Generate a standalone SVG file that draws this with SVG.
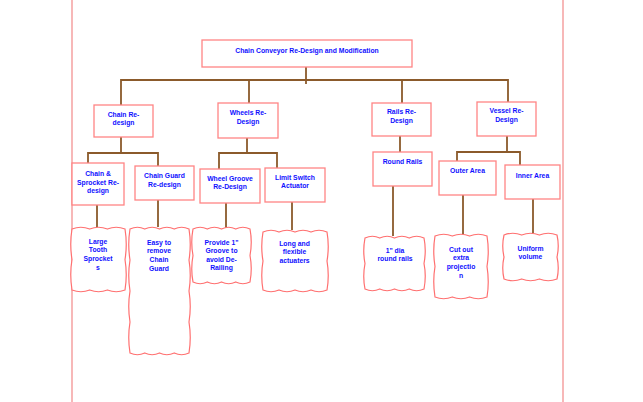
<svg xmlns="http://www.w3.org/2000/svg" width="643" height="402" viewBox="0 0 643 402">
<style>
.bg{fill:#ffffff}
.page{stroke:#f4a0a0;stroke-width:1.5;fill:none}
.box{fill:#ffffff;stroke:#ff8585;stroke-width:1.3}
.cloud{fill:#ffffff;stroke:#ff7070;stroke-width:1.2}
.c{fill:none;stroke:#8b5a2b;stroke-width:1.8}
text{font-family:"Liberation Sans",Arial,sans-serif;font-size:6.8px;font-weight:bold;fill:#1010ff;text-anchor:middle}
</style>
<rect class="bg" x="0" y="0" width="643" height="402"/>
<g id="page">
<line class="page" x1="72" y1="0" x2="72" y2="402"/>
<line class="page" x1="563" y1="0" x2="563" y2="402"/>
</g>
<g id="connectors">
<path class="c" d="M306,67 V84"/>
<path class="c" d="M121,105 V80 H508 V102"/>
<path class="c" d="M249,80 V103"/>
<path class="c" d="M402,80 V103"/>
<path class="c" d="M121,137 V153"/>
<path class="c" d="M88,163 V153 H158 V166"/>
<path class="c" d="M247,138 V153"/>
<path class="c" d="M219,169 V153 H277 V168"/>
<path class="c" d="M400,136 V152"/>
<path class="c" d="M507,136 V152"/>
<path class="c" d="M457,161 V152 H520 V165"/>
<path class="c" d="M97,205 V227"/>
<path class="c" d="M158,200 V227"/>
<path class="c" d="M226,203 V228"/>
<path class="c" d="M292,202 V230"/>
<path class="c" d="M393,186 V236"/>
<path class="c" d="M463,195 V234"/>
<path class="c" d="M533,199 V233"/>
</g>
<g id="root">
<rect class="box" x="202" y="40" width="210" height="27"/>
<text x="307" y="52.5">Chain Conveyor Re-Design and Modification</text>
</g>
<g id="chain">
<rect class="box" x="94" y="105" width="59" height="32"/>
<text x="123.5" y="116.5">Chain Re-</text>
<text x="123.5" y="125.2">design</text>
</g>
<g id="wheels">
<rect class="box" x="218" y="103" width="60" height="35"/>
<text x="248" y="115.2">Wheels Re-</text>
<text x="248" y="123.8">Design</text>
</g>
<g id="rails">
<rect class="box" x="372" y="103" width="59" height="33"/>
<text x="401.5" y="114.2">Rails Re-</text>
<text x="401.5" y="122.8">Design</text>
</g>
<g id="vessel">
<rect class="box" x="477" y="102" width="59" height="34"/>
<text x="506.5" y="113.2">Vessel Re-</text>
<text x="506.5" y="121.8">Design</text>
</g>
<g id="sprocket">
<rect class="box" x="72" y="163" width="52" height="42"/>
<text x="98" y="175.8">Chain &amp;</text>
<text x="98" y="184.5">Sprocket Re-</text>
<text x="98" y="193.2">design</text>
</g>
<g id="guard">
<rect class="box" x="135" y="166" width="59" height="34"/>
<text x="164.5" y="177.8">Chain Guard</text>
<text x="164.5" y="186.5">Re-design</text>
</g>
<g id="groove">
<rect class="box" x="200" y="169" width="60" height="34"/>
<text x="230" y="180.5">Wheel Groove</text>
<text x="230" y="188.8">Re-Design</text>
</g>
<g id="limit">
<rect class="box" x="265" y="168" width="60" height="34"/>
<text x="295" y="179.5">Limit Switch</text>
<text x="295" y="187.8">Actuator</text>
</g>
<g id="roundrails">
<rect class="box" x="373" y="152" width="59" height="34"/>
<text x="402.5" y="163.5">Round Rails</text>
</g>
<g id="outer">
<rect class="box" x="439" y="161" width="57" height="34"/>
<text x="467.5" y="172.5">Outer Area</text>
</g>
<g id="inner">
<rect class="box" x="505" y="165" width="55" height="34"/>
<text x="532.5" y="177.5">Inner Area</text>
</g>
<g id="largetooth">
<path class="cloud" d="M72,229 q8.8,-3.5 17.7,0 q8.8,-3.5 17.7,0 q8.8,-3.5 17.6,0 q2.5,15.5 0,30.5 q2.5,15.5 0,30.5 q-8.8,3.5 -17.6,0 q-8.8,3.5 -17.7,0 q-8.8,3.5 -17.7,0 q-2.5,-15.5 0,-30.5 q-2.5,-15.5 0,-30.5 z"/>
<text x="98" y="243.5">Large</text>
<text x="98" y="252.2">Tooth</text>
<text x="98" y="260.8">Sprocket</text>
<text x="98" y="269.5">s</text>
</g>
<g id="easy">
<path class="cloud" d="M130,229 q7.4,-3.5 14.75,0 q7.4,-3.5 14.75,0 q7.4,-3.5 14.75,0 q7.4,-3.5 14.75,0 q2.5,15.5 0,31 q2.5,15.5 0,31 q2.5,15.5 0,31 q2.5,15.5 0,31 q-7.4,3.5 -14.75,0 q-7.4,3.5 -14.75,0 q-7.4,3.5 -14.75,0 q-7.4,3.5 -14.75,0 q-2.5,-15.5 0,-31 q-2.5,-15.5 0,-31 q-2.5,-15.5 0,-31 q-2.5,-15.5 0,-31 z"/>
<text x="159" y="244.5">Easy to</text>
<text x="159" y="253.2">remove</text>
<text x="159" y="261.8">Chain</text>
<text x="159" y="270.5">Guard</text>
</g>
<g id="provide">
<path class="cloud" d="M193,229 q7.1,-3.5 14.25,0 q7.1,-3.5 14.25,0 q7.1,-3.5 14.25,0 q7.1,-3.5 14.25,0 q2.5,13 0,26.5 q2.5,13 0,26.5 q-7.1,3.5 -14.25,0 q-7.1,3.5 -14.25,0 q-7.1,3.5 -14.25,0 q-7.1,3.5 -14.25,0 q-2.5,-13 0,-26.5 q-2.5,-13 0,-26.5 z"/>
<text x="221.5" y="244.5">Provide 1"</text>
<text x="221.5" y="253">Groove to</text>
<text x="221.5" y="261.5">avoid De-</text>
<text x="221.5" y="270">Railing</text>
</g>
<g id="long">
<path class="cloud" d="M263,232 q8,-3.5 16,0 q8,-3.5 16,0 q8,-3.5 16,0 q8,-3.5 16,0 q2.5,14.5 0,29 q2.5,14.5 0,29 q-8,3.5 -16,0 q-8,3.5 -16,0 q-8,3.5 -16,0 q-8,3.5 -16,0 q-2.5,-14.5 0,-29 q-2.5,-14.5 0,-29 z"/>
<text x="294.5" y="245.5">Long and</text>
<text x="294.5" y="254.2">flexible</text>
<text x="294.5" y="262.8">actuaters</text>
</g>
<g id="dia">
<path class="cloud" d="M365,238 q7.4,-3.5 14.75,0 q7.4,-3.5 14.75,0 q7.4,-3.5 14.75,0 q7.4,-3.5 14.75,0 q2.5,12.5 0,25.5 q2.5,12.5 0,25.5 q-7.4,3.5 -14.75,0 q-7.4,3.5 -14.75,0 q-7.4,3.5 -14.75,0 q-7.4,3.5 -14.75,0 q-2.5,-12.5 0,-25.5 q-2.5,-12.5 0,-25.5 z"/>
<text x="395" y="252.5">1" dia</text>
<text x="395" y="261">round rails</text>
</g>
<g id="cutout">
<path class="cloud" d="M435,236 q8.7,-3.5 17.3,0 q8.7,-3.5 17.3,0 q8.7,-3.5 17.4,0 q2.5,15.5 0,30.5 q2.5,15.5 0,30.5 q-8.7,3.5 -17.4,0 q-8.7,3.5 -17.3,0 q-8.7,3.5 -17.3,0 q-2.5,-15.5 0,-30.5 q-2.5,-15.5 0,-30.5 z"/>
<text x="461" y="251.5">Cut out</text>
<text x="461" y="260.2">extra</text>
<text x="461" y="268.8">projectio</text>
<text x="461" y="277.5">n</text>
</g>
<g id="uniform">
<path class="cloud" d="M504,235 q8.8,-3.5 17.7,0 q8.8,-3.5 17.7,0 q8.8,-3.5 17.6,0 q2.5,11 0,22 q2.5,11 0,22 q-8.8,3.5 -17.6,0 q-8.8,3.5 -17.7,0 q-8.8,3.5 -17.7,0 q-2.5,-11 0,-22 q-2.5,-11 0,-22 z"/>
<text x="530.5" y="250.5">Uniform</text>
<text x="530.5" y="259.2">volume</text>
</g>
</svg>
